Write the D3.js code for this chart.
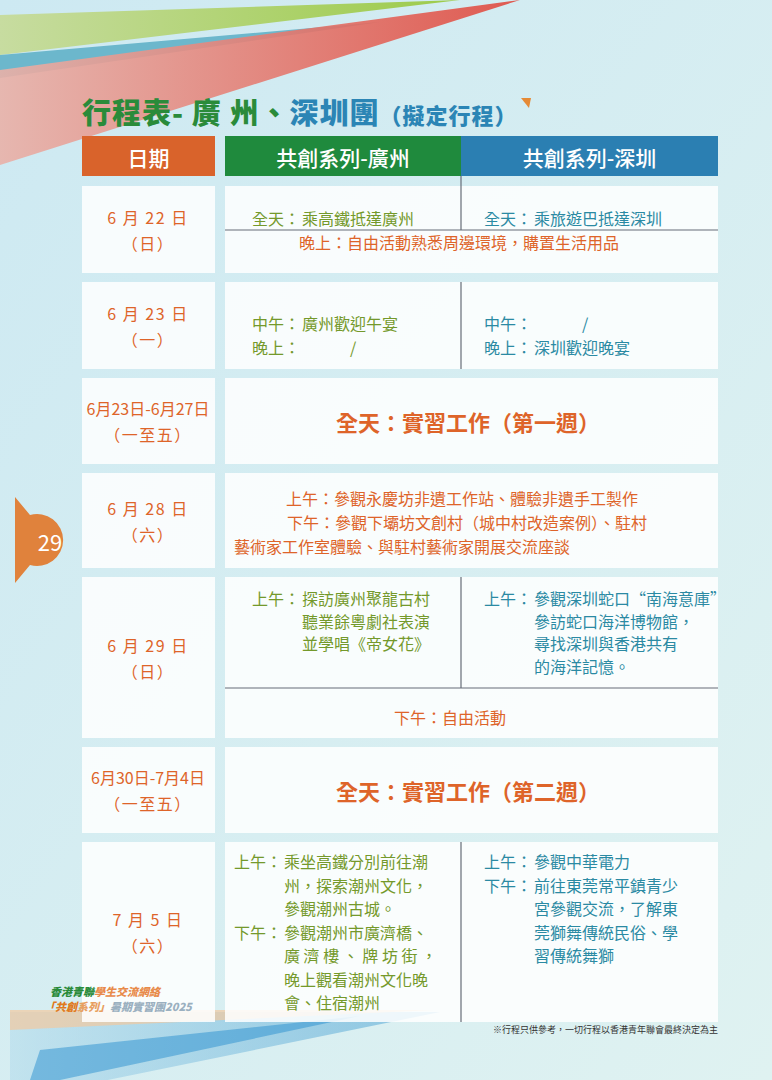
<!DOCTYPE html>
<html><head><meta charset="utf-8">
<script src="https://cdnjs.cloudflare.com/ajax/libs/d3/7.8.5/d3.min.js"></script>
<style>body{margin:0;background:#d9eff5;} text{font-family:"Noto Sans CJK TC","Noto Sans CJK SC",sans-serif;}</style>
</head><body>
<svg id="c" width="772" height="1080"></svg>
<script>
// column headers and date labels
var headers = ["日期", "共創系列-廣州", "共創系列-深圳"];
var dates = [["6 月 22 日","（日）"],["6 月 23 日","（一）"],["6月23日-6月27日","（一至五）"],
  ["6 月 28 日","（六）"],["6 月 29 日","（日）"],["6月30日-7月4日","（一至五）"],["7 月 5 日","（六）"]];
var gz = [
  [["全天：","乘高鐵抵達廣州"]],
  [["中午：","廣州歡迎午宴"],["晚上：","　　　/"]],
  [], [],
  [["上午：","探訪廣州聚龍古村"],["","聽業餘粵劇社表演"],["","並學唱《帝女花》"]],
  [],
  [["上午：","乘坐高鐵分別前往潮"],["","州，探索潮州文化，"],["","參觀潮州古城。"],
   ["下午：","參觀潮州市廣濟橋、"],["","廣 濟 樓 、 牌 坊 街 ，"],["","晚上觀看潮州文化晚"],["","會、住宿潮州"]]
];
var sz = [
  [["全天：","乘旅遊巴抵達深圳"]],
  [["中午：","　　　/"],["晚上：","深圳歡迎晚宴"]],
  [], [],
  [["上午：","參觀深圳蛇口“南海意庫”"],["","參訪蛇口海洋博物館，"],["","尋找深圳與香港共有"],["","的海洋記憶。"]],
  [],
  [["上午：","參觀中華電力"],["下午：","前往東莞常平鎮青少"],["","宮參觀交流，了解東"],["","莞獅舞傳統民俗、學"],["","習傳統舞獅"]]
];
var shared = ["晚上：自由活動熟悉周邊環境，購置生活用品", null, "全天：實習工作（第一週）", null, "下午：自由活動", "全天：實習工作（第二週）", null];
var row4 = ["上午：參觀永慶坊非遺工作站、體驗非遺手工製作", "下午：參觀下壩坊文創村（城中村改造案例）、駐村", "藝術家工作室體驗、與駐村藝術家開展交流座談"];

// layout
var rowTop = [186,282,378,473,577,747,842], rowBot = [273,369,464,568,738,833,1022];
var ORANGE = "#de6429", GREEN = "#74992b", TEAL = "#2b8aa3";
var FS = 16;
var svg = d3.select("#c");

var defs = svg.append("defs");
var bg = defs.append("linearGradient").attr("id","bg").attr("x1",0).attr("y1",0).attr("x2",1).attr("y2",1);
bg.append("stop").attr("offset",0).attr("stop-color","#cde9f2");
bg.append("stop").attr("offset",1).attr("stop-color","#dff2f1");
svg.append("rect").attr("width",772).attr("height",1080).attr("fill","url(#bg)");
var rg = defs.append("linearGradient").attr("id","red").attr("x1",0).attr("x2",1);
rg.append("stop").attr("offset",0).attr("stop-color","#e9b1a8");
rg.append("stop").attr("offset",1).attr("stop-color","#e04a3f");
var gg = defs.append("linearGradient").attr("id","grn").attr("x1",0).attr("x2",1);
gg.append("stop").attr("offset",0).attr("stop-color","#c7dca0");
gg.append("stop").attr("offset",1).attr("stop-color","#9ccb4a");
var bl = defs.append("linearGradient").attr("id","blu").attr("x1",0).attr("x2",1);
bl.append("stop").attr("offset",0).attr("stop-color","#a9d6ea");
bl.append("stop").attr("offset",1).attr("stop-color","#2a90cc");

svg.append("path").attr("d","M0,15 L460,0 L0,55Z").attr("fill","url(#grn)");
svg.append("path").attr("d","M0,55 L380,22 L0,78Z").attr("fill","#6cb7cc");
svg.append("path").attr("d","M0,70 L520,0 L0,165Z").attr("fill","url(#red)").attr("opacity",0.9);
svg.append("path").attr("d","M10,1100 L10,1012 L440,1012 Z").attr("fill","url(#blu)").attr("opacity",0.45);
svg.append("path").attr("d","M10,1010 L435,1010 L10,1030Z").attr("fill","#f2c9a0").attr("opacity",0.7);
svg.append("path").attr("d","M40,1050 L360,1016 L60,1080 L30,1080Z").attr("fill","#2a8fd0").attr("opacity",0.5);

// title
var t = svg.append("text").attr("x",82).attr("y",124).attr("font-size",29).attr("font-weight",900).attr("letter-spacing",1);
t.append("tspan").attr("fill","#2a8b3a").text("行程表- 廣 州、");
t.append("tspan").attr("fill","#2b85b5").text("深圳團");
t.append("tspan").attr("fill","#2b85b5").attr("font-size",22).text("（擬定行程）");
svg.append("path").attr("d","M521,98 L531,98 L529,108Z").attr("fill","#e58a36");

// headers
var hx = [[82,215,"#d9632b"],[225,461,"#1f8a3d"],[461,718,"#2b7fb2"]];
hx.forEach(function(h,i){
  svg.append("rect").attr("x",h[0]).attr("y",136).attr("width",h[1]-h[0]).attr("height",40).attr("fill",h[2]);
  svg.append("text").attr("x",(h[0]+h[1])/2).attr("y",157).attr("text-anchor","middle").attr("dominant-baseline","central")
    .attr("fill","#fff").attr("font-size",21).attr("font-weight",500).text(headers[i]);
});

// cells
dates.forEach(function(d,i){
  var y0 = rowTop[i], y1 = rowBot[i], yc = (y0+y1)/2;
  svg.append("rect").attr("x",82).attr("y",y0).attr("width",133).attr("height",y1-y0).attr("fill","#fff").attr("opacity",0.85);
  svg.append("rect").attr("x",225).attr("y",y0).attr("width",493).attr("height",y1-y0).attr("fill","#fff").attr("opacity",0.85);
  svg.selectAll(null).data(d).enter().append("text").attr("x",148).attr("y",function(s,k){return yc-13+k*26;})
    .attr("text-anchor","middle").attr("dominant-baseline","central").attr("fill",ORANGE).attr("font-size",FS)
    .attr("letter-spacing",function(s){return s.indexOf("-")<0 ? 1.5 : 0;}).text(function(s){return s;});
});

function block(lines, x, y, color, step){
  lines.forEach(function(l,k){
    var yy = y + k*step;
    if (l[0]) svg.append("text").attr("x",x).attr("y",yy).attr("dominant-baseline","central").attr("fill",color).attr("font-size",FS).text(l[0]);
    svg.append("text").attr("x",x+50).attr("y",yy).attr("dominant-baseline","central").attr("fill",color).attr("font-size",FS).text(l[1]);
  });
}
function line(x1,y1,x2,y2){ svg.append("line").attr("x1",x1).attr("y1",y1).attr("x2",x2).attr("y2",y2).attr("stroke","#666d78").attr("stroke-width",1.2); }

// row 1
line(461,176,461,230); line(225,230,718,230);
block(gz[0],252,218,GREEN,24); block(sz[0],484,218,TEAL,24);
// row 2
line(461,282,461,369);
block(gz[1],252,323,GREEN,24); block(sz[1],484,323,TEAL,24);
// row 5
line(461,577,461,688); line(225,688,718,688);
block(gz[4],252,598,GREEN,22.5); block(sz[4],484,598,TEAL,22.5);
// row 7
line(461,842,461,1022);
block(gz[6],234,861,GREEN,23.5); block(sz[6],484,861,TEAL,23.5);

// shared texts
[[0,459,242,FS],[2,468,421,22],[4,450,717,FS],[5,468,790,22]].forEach(function(s){
  svg.append("text").attr("x",s[1]).attr("y",s[2]).attr("text-anchor","middle").attr("dominant-baseline","central")
    .attr("fill",ORANGE).attr("font-size",s[3]).attr("font-weight",s[3]>20?700:400).text(shared[s[0]]);
});
[[286,498],[287,522],[234,546]].forEach(function(p,k){
  svg.append("text").attr("x",p[0]).attr("y",p[1]).attr("dominant-baseline","central").attr("fill",ORANGE).attr("font-size",FS).text(row4[k]);
});

// page tab
svg.append("path").attr("d","M15,497 L30,515 A26,26 0 1 1 30,565 L15,583Z").attr("fill","#e0823c");
svg.append("text").attr("x",50).attr("y",541).attr("text-anchor","middle").attr("dominant-baseline","central").attr("fill","#fff").attr("font-size",22).text("29");

// logo + note
var l1 = svg.append("text").attr("x",50).attr("y",996).attr("font-size",11).attr("font-weight",900).attr("font-style","italic");
l1.append("tspan").attr("fill","#2a8b3a").text("香港青聯");
l1.append("tspan").attr("fill","#e88a4a").text("學生交流網絡");
var l2 = svg.append("text").attr("x",44).attr("y",1011).attr("font-size",11).attr("font-weight",900).attr("font-style","italic");
l2.append("tspan").attr("fill","#e07a20").text("「共創");
l2.append("tspan").attr("fill","#e8a060").text("系列」");
l2.append("tspan").attr("fill","#9bb0c0").text("暑期實習團2025");
svg.append("text").attr("x",718).attr("y",1033).attr("text-anchor","end").attr("font-size",9).attr("fill","#333").text("※行程只供參考，一切行程以香港青年聯會最終決定為主");
</script>
</body></html>
